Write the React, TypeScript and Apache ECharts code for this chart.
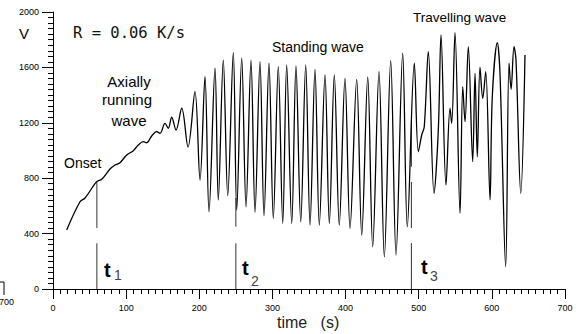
import React, { useEffect, useRef } from "react";
import * as echarts from "echarts";

// Waveform: time (s) and voltage V
const timeS = [
  18.7, 36.9, 43.8, 59.7, 66.6, 77.9, 84.8, 91.6, 100.8, 109.8, 116.6, 123.5, 128.1, 134.9, 141.8,
  146.3, 153.1, 157.6, 162.3, 168.2, 176.0, 184.6, 194.1, 201.0, 207.8, 213.3, 221.5, 226.0, 232.8,
  238.9, 246.5, 251.2, 258.0, 263.9, 270.7, 276.2, 283.0, 288.5, 295.3, 301.2, 308.0, 314.1, 319.5,
  326.4, 332.2, 338.7, 345.5, 351.4, 358.2, 364.1, 371.9, 377.8, 384.6, 391.4, 399.2, 406.1, 415.2,
  422.1, 430.3, 437.1, 445.7, 453.0, 461.7, 469.0, 478.1, 484.4, 494.0, 499.5, 504.1, 507.6, 513.1,
  520.9, 526.8, 530.5, 537.3, 542.8, 545.1, 549.6, 556.5, 560.2, 563.3, 567.8, 573.8, 577.0, 580.1,
  583.8, 587.5, 591.6, 597.5, 600.6, 607.5, 611.2, 618.9, 623.5, 626.3, 630.3, 633.0, 639.5, 645.3,
];
const voltage = [
  426, 630, 657, 775, 792, 866, 895, 912, 968, 999, 1040, 1064, 1056, 1105, 1136,
  1124, 1196, 1160, 1240, 1148, 1305, 1025, 1425, 787, 1533, 558, 1594, 643, 1653,
  674, 1706, 570, 1666, 594, 1653, 554, 1641, 529, 1630, 510, 1605, 474, 1617,
  474, 1610, 486, 1617, 462, 1586, 462, 1545, 474, 1545, 462, 1521, 438, 1514,
  390, 1529, 305, 1569, 233, 1648, 245, 1702, 450, 1630, 991, 1112, 1172, 1713,
  691, 1148, 1834, 751, 1305, 1196, 1851, 547, 1461, 1208, 1749, 919, 1557, 955,
  1601, 1377, 1569, 643, 1388, 1778, 1545, 161, 1630, 1442, 1749, 1653, 691, 1690,
];

// Event markers t1, t2, t3
const markerTimes = [60, 250, 490];
const markerLabels = ["1", "2", "3"];
const markerSegments = [
  [[775, 440], [330, 0]],
  [[657, 450], [330, 0]],
  [[1220, 883], [772, 440], [332, 0]],
];

// Axes
const xMin = 0, xMax = 700, xStep = 100;
const yMin = 0, yMax = 2000, yStep = 400;

const FONT = "Liberation Sans, Arial, sans-serif";

export default function App() {
  const ref = useRef<HTMLDivElement>(null);
  useEffect(() => {
    if (!ref.current) return;
    const chart = echarts.init(ref.current, null, { renderer: "svg" });

    const markerSeries: any[] = [];
    markerTimes.forEach((t, i) => {
      markerSegments[i].forEach((seg) => {
        markerSeries.push({
          type: "line",
          data: [[t, seg[0]], [t, seg[1]]],
          symbol: "none",
          silent: true,
          lineStyle: { color: "#333", width: 1 },
          z: 1,
        });
      });
    });

    const tPos = [
      { tx: 104, ty: 270, sx: 114, sy: 275 },
      { tx: 242, ty: 268, sx: 251, sy: 281 },
      { tx: 421, ty: 267, sx: 430, sy: 276 },
    ];
    const tGraphics: any[] = [];
    markerLabels.forEach((lab, i) => {
      const p = tPos[i];
      tGraphics.push({
        type: "text", x: p.tx, y: p.ty,
        style: { text: "t", font: `bold 20px ${FONT}`, fill: "#000", textVerticalAlign: "middle" },
      });
      tGraphics.push({
        type: "text", x: p.sx, y: p.sy,
        style: { text: lab, font: `14px ${FONT}`, fill: "#444", textVerticalAlign: "middle" },
      });
    });

    const txt = (text: string, x: number, y: number, size: number, align = "left", family = FONT, fill = "#000") => ({
      type: "text",
      x, y,
      style: { text, font: `${size}px ${family}`, fill, textAlign: align, textVerticalAlign: "middle" },
    });

    chart.setOption({
      animation: false,
      backgroundColor: "#fff",
      grid: { left: 53, right: 18, top: 12, bottom: 45 },
      xAxis: {
        type: "value",
        min: xMin, max: xMax, interval: xStep,
        axisLine: { show: true, onZero: false, lineStyle: { color: "#000", width: 1 } },
        axisTick: { show: true, length: 10, lineStyle: { color: "#000" } },
        minorTick: { show: true, splitNumber: 10, length: 5, lineStyle: { color: "#000" } },
        splitLine: { show: false },
        axisLabel: { color: "#000", fontSize: 9, fontFamily: FONT, margin: 14, formatter: (v: number) => String(v) },
      },
      yAxis: {
        type: "value",
        min: yMin, max: yMax, interval: yStep,
        axisLine: { show: true, lineStyle: { color: "#000", width: 1 } },
        axisTick: { show: true, length: 11, lineStyle: { color: "#000" } },
        minorTick: { show: true, splitNumber: 10, length: 5, lineStyle: { color: "#000" } },
        splitLine: { show: false },
        axisLabel: { color: "#000", fontSize: 9, fontFamily: FONT, margin: 14, formatter: (v: number) => String(v) },
      },
      series: [
        {
          type: "line",
          data: timeS.map((t, i) => [t, voltage[i]]),
          symbol: "none",
          smooth: 0.35,
          lineStyle: { color: "#000", width: 1.3 },
          z: 3,
        },
        ...markerSeries,
      ],
      graphic: [
        txt("V", 19, 33, 15),
        txt("R = 0.06 K/s", 73, 33, 15.5, "left", "DejaVu Sans Mono, monospace", "#111"),
        txt("Axially", 129, 81, 15, "center"),
        txt("running", 127, 99, 15, "center"),
        txt("wave", 129, 120, 15, "center"),
        txt("Onset", 64, 163, 14),
        txt("Standing wave", 272, 47, 14),
        txt("Travelling wave", 413, 17, 13.5),
        txt("time   (s)", 277, 322, 16, "left", FONT, "#222"),
        txt("700", 14, 302, 9, "right"),
        {
          type: "polyline",
          shape: { points: [[0, 282], [4, 282], [4, 295]] },
          style: { stroke: "#000", lineWidth: 1, fill: null },
        },
        ...tGraphics,
      ],
    });
    return () => chart.dispose();
  }, []);
  return (
    <div
      ref={ref}
      style={{ position: "fixed", left: 0, top: 0, width: 583, height: 334, background: "#fff" }}
    />
  );
}
